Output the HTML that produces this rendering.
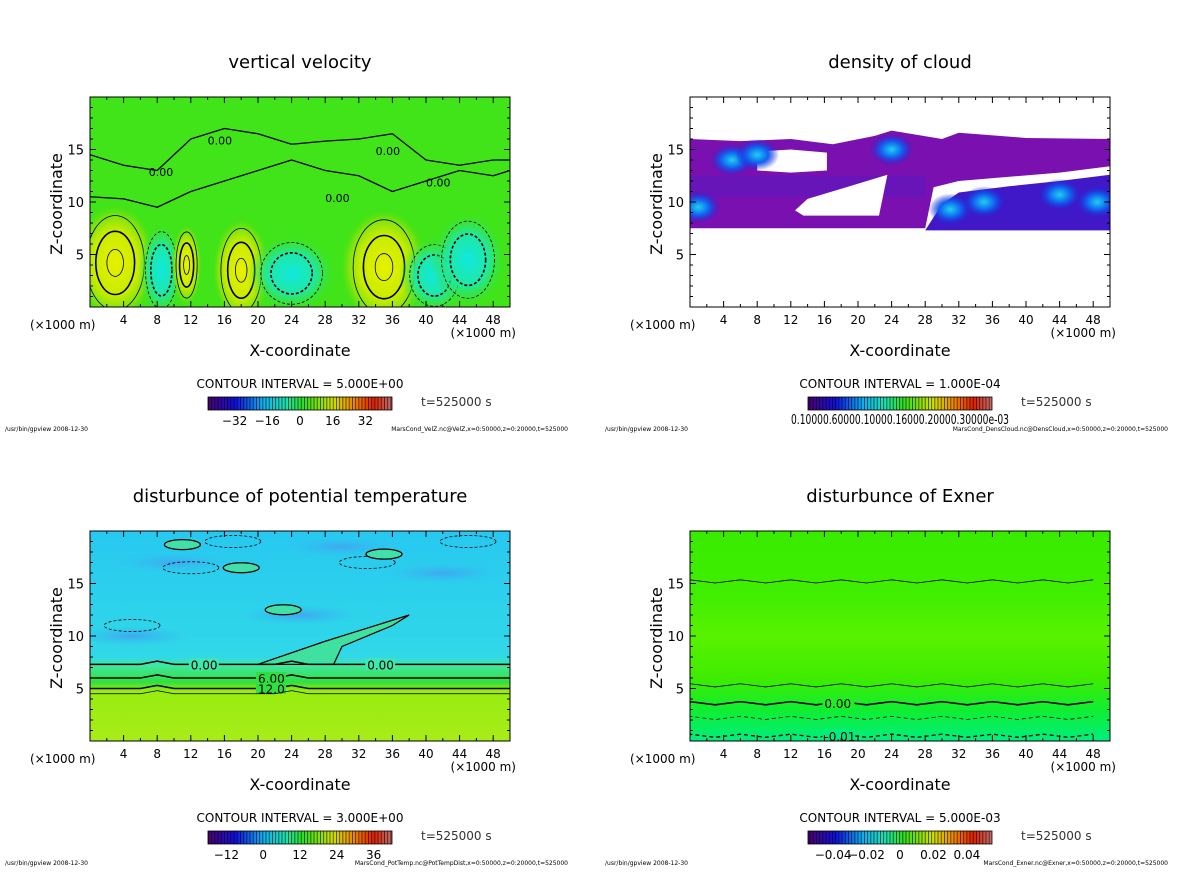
<!DOCTYPE html>
<html><head><meta charset="utf-8">
<style>
html,body{margin:0;padding:0;background:#fff;}
body{width:1200px;height:868px;overflow:hidden;font-family:"Liberation Sans","DejaVu Sans",sans-serif;}
svg text{font-family:"DejaVu Sans","Liberation Sans",sans-serif;}
</style></head>
<body>
<svg id="fig" width="1200" height="868" viewBox="0 0 1200 868" xmlns="http://www.w3.org/2000/svg">
<defs>
<linearGradient id="cbar" x1="0" x2="1" y1="0" y2="0">
<stop offset="0" stop-color="#4b0070"/><stop offset="0.15" stop-color="#1010e0"/>
<stop offset="0.3" stop-color="#10b0f0"/><stop offset="0.42" stop-color="#20e0b0"/>
<stop offset="0.52" stop-color="#30e020"/><stop offset="0.68" stop-color="#d0e000"/>
<stop offset="0.8" stop-color="#f08000"/><stop offset="0.9" stop-color="#e02000"/>
<stop offset="1" stop-color="#c07070"/></linearGradient>
<pattern id="cbarlines" width="3.2" height="14" patternUnits="userSpaceOnUse"><rect x="0" y="0" width="0.8" height="14" fill="#000" opacity="0.7"/></pattern>
<linearGradient id="ptgrad" x1="0" x2="0" y1="0" y2="1">
<stop offset="0" stop-color="#28c8f0"/><stop offset="0.6" stop-color="#30d8e8"/>
<stop offset="0.64" stop-color="#40e8a0"/><stop offset="0.72" stop-color="#30e040"/>
<stop offset="0.76" stop-color="#98ec10"/><stop offset="1" stop-color="#a8ec18"/></linearGradient>
<linearGradient id="exgrad" x1="0" x2="0" y1="0" y2="1">
<stop offset="0" stop-color="#38ec00"/><stop offset="0.3" stop-color="#40ee00"/>
<stop offset="0.5" stop-color="#58f200"/><stop offset="0.7" stop-color="#40ec00"/>
<stop offset="0.85" stop-color="#10ee30"/><stop offset="1" stop-color="#00ee80"/></linearGradient>
<radialGradient id="yel"><stop offset="0" stop-color="#e8f000"/><stop offset="0.55" stop-color="#c8ec00"/><stop offset="0.8" stop-color="#80e410"/><stop offset="1" stop-color="#50e010" stop-opacity="0"/></radialGradient>
<radialGradient id="cyn"><stop offset="0" stop-color="#10e8e0"/><stop offset="0.55" stop-color="#20e8a0"/><stop offset="1" stop-color="#40e020" stop-opacity="0"/></radialGradient>
<radialGradient id="blu"><stop offset="0" stop-color="#40a8f0"/><stop offset="1" stop-color="#30c0f0" stop-opacity="0"/></radialGradient>
<radialGradient id="cbl"><stop offset="0" stop-color="#20d0f0"/><stop offset="0.5" stop-color="#1060f0"/><stop offset="1" stop-color="#2020d0" stop-opacity="0"/></radialGradient>
</defs>
</svg>
<script>
// ---- data ----
const xTicks = [4,8,12,16,20,24,28,32,36,40,44,48];
const zTicks = [5,10,15];
const titles = ["vertical velocity","density of cloud","disturbunce of potential temperature","disturbunce of Exner"];
const intervals = ["CONTOUR INTERVAL = 5.000E+00","CONTOUR INTERVAL = 1.000E-04","CONTOUR INTERVAL = 3.000E+00","CONTOUR INTERVAL = 5.000E-03"];
const cbarLabels = [["-32","-16","0","16","32"],[],["-12","0","12","24","36"],["-0.04","-0.02","0","0.02","0.04"]];
const cbarValues = [[-32,-16,0,16,32],[],[-12,0,12,24,36],[-0.04,-0.02,0,0.02,0.04]];
const cbarRange = [[-45,45],[0,1],[-18,42],[-0.055,0.055]];
const files = ["MarsCond_VelZ.nc@VelZ,x=0:50000,z=0:20000,t=525000","MarsCond_DensCloud.nc@DensCloud,x=0:50000,z=0:20000,t=525000","MarsCond_PotTemp.nc@PotTempDist,x=0:50000,z=0:20000,t=525000","MarsCond_Exner.nc@Exner,x=0:50000,z=0:20000,t=525000"];
// vertical velocity cells
const wX = [3, 18, 35, 8.5, 11.5, 24, 41, 45];
const wZ = [4.2, 3.5, 3.8, 3.5, 4, 3.2, 3, 4.5];
const wRX = [3.3, 2.3, 3.5, 1.8, 1.2, 3.5, 2.8, 3];
const wRZ = [4.3, 3.8, 4.3, 3.5, 3, 2.8, 2.8, 3.5];
const wSign = [1, 1, 1, -1, 1, -1, -1, -1];
// zero contour heights across x (km) for w
const w0X = [0,4,8,12,16,20,24,28,32,36,40,44,48,50];
const w0Za = [10.5,10.3,9.5,11,12,13,14,13,12.5,11,12,13,12.5,13];
const w0Zb = [14.5,13.5,13,16,17,16.5,15.5,15.8,16,16.5,14,13.5,14,14];
// cloud polygons (km, z pairs flattened)
const cloudUpper = [0,16, 6,15.8, 12,16, 17,15.5, 22,16.3, 24,16.8, 30,16, 32,16.6, 40,16.1, 50,16, 50,13.4, 44,12.8, 38,12.4, 32,12, 29,11.4, 28,7.5, 0,7.5];
const cloudLower = [28,7.3, 50,7.3, 50,12.6, 44,12, 38,11.5, 32,10.9, 30,9.8];
const holeA = [8,14.8, 12,15, 16.3,14.7, 16.3,13, 12,12.8, 8,13];
const holeB = [13.5,8.7, 22.5,8.7, 23.5,12.6, 19,11.5, 14,10.3, 12.5,9.2];
// cloud bright spots
const sX = [5, 24, 31, 35, 44, 48.5, 1, 8];
const sZ = [14, 15, 9.3, 10, 10.7, 10, 9.5, 14.5];
// potential temp contour levels
const ptZ = [7.3, 6.0, 5.0, 4.5];
const ptLbl = ["0.00","6.00","12.0",""];
// exner contour levels
const exZ = [15.2, 5.3, 3.6, 2.2, 0.5];
const exDash = [false,false,false,true,true];
const exLbl = ["","","0.00","","-0.01"];

const NS="http://www.w3.org/2000/svg";
const svg=document.getElementById('fig');
function el(tag,attrs,parent){const e=document.createElementNS(NS,tag);for(const k in attrs)e.setAttribute(k,attrs[k]);(parent||svg).appendChild(e);return e;}
const panels=[{x:90,y:97},{x:690,y:97},{x:90,y:531},{x:690,y:531}];
const W=420,H=210;

panels.forEach((p,i)=>{
  const g=el('g',{});
  
  
  const sx=v=>p.x+v/50*W, sz=v=>p.y+H-v/20*H;
  const poly=a=>{let s='';for(let k=0;k<a.length;k+=2)s+=(k?' L':'M')+sx(a[k])+' '+sz(a[k+1]);return s+'Z';};
  const clip='clip'+i;
  const cp=el('clipPath',{id:clip},g);el('rect',{x:p.x,y:p.y,width:W,height:H},cp);
  const plot=el('g',{'clip-path':'url(#'+clip+')'},g);
  
  
  if(i===0){
    el('rect',{x:p.x,y:p.y,width:W,height:H,fill:'#40e418'},plot);
    wX.forEach((c,k)=>{
      const cell=el('ellipse',{cx:sx(c),cy:sz(wZ[k]),rx:wRX[k]/50*W*1.5,ry:wRZ[k]/20*H*1.3,fill:wSign[k]>0?'url(#yel)':'url(#cyn)'},plot);
      
      
      [1.05,0.7,0.3].forEach((f,j)=>{
        if(j===2&&wSign[k]<0)return;
        el('ellipse',{cx:sx(c),cy:sz(wZ[k]),rx:wRX[k]/50*W*f,ry:wRZ[k]/20*H*f,fill:'none',stroke:'#000','stroke-width':j===1?1.6:0.8,'stroke-dasharray':wSign[k]<0?'3,2':'none'},plot);
      });
    });
    [w0Za,w0Zb].forEach(arr=>{
      let d='';
      w0X.forEach((x,k)=>{d+=(k?' L':'M')+sx(x)+' '+sz(arr[k]);});
      const ln=el('path',{d:d,fill:'none',stroke:'#000','stroke-width':1.3,'stroke-linejoin':'round'},plot);
      
      
    });
    [[7,12.5],[14,15.5],[34,14.5],[40,11.5],[28,10]].forEach(q=>{const t=el('text',{x:sx(q[0]),y:sz(q[1]),'font-size':11,fill:'#000'},plot);t.textContent='0.00';});
  } else if(i===1){
    el('rect',{x:p.x,y:p.y,width:W,height:H,fill:'#fff'},plot);
    let u=el('path',{d:poly(cloudUpper),fill:'#7a10b0'},plot);
    
    el('rect',{x:sx(0),y:sz(12.5),width:sx(28)-sx(0),height:sz(10.5)-sz(12.5),fill:'#5a18c0',opacity:0.6},plot);
    el('path',{d:poly(holeA),fill:'#fff'},plot);
    el('path',{d:poly(holeB),fill:'#fff'},plot);
    let l=el('path',{d:poly(cloudLower),fill:'#4018c8'},plot);
    
    sX.forEach((x,k)=>{const s=el('ellipse',{cx:sx(x),cy:sz(sZ[k]),rx:22,ry:16,fill:'url(#cbl)'},plot);
      
      });
  } else if(i===2){
    el('rect',{x:p.x,y:p.y,width:W,height:H,fill:'url(#ptgrad)'},plot);
    [[10,17],[25,12],[42,16],[30,18.5],[5,10]].forEach(q=>el('ellipse',{cx:sx(q[0]),cy:sz(q[1]),rx:60,ry:10,fill:'url(#blu)'},plot));
    el('path',{d:`M${sx(20)} ${sz(7.3)} L${sx(28)} ${sz(9.5)} L${sx(38)} ${sz(12)} L${sx(36)} ${sz(11)} L${sx(30)} ${sz(9)} L${sx(29)} ${sz(7.3)}Z`,fill:'#40e0a0',stroke:'#000','stroke-width':1.2},plot);
    ptZ.forEach((z,k)=>{
      let d='M'+p.x+' '+sz(z);
      for(let xx=0;xx<=50;xx+=2){d+=' L'+sx(xx)+' '+sz(z+((xx===8||xx===24)?0.3:0))}
      const ln=el('path',{d:d,fill:'none',stroke:'#000','stroke-width':k<3?1.5:0.8},plot);
      
      
      if(ptLbl[k]){const xs=k===0?[12,33]:[20];xs.forEach(xl=>{el('rect',{x:sx(xl)-2,y:sz(z)-6,width:30,height:11,fill:k===0?'#40e8b0':'#30e040'},plot);const t=el('text',{x:sx(xl),y:sz(z)+5,'font-size':12,fill:'#000'},plot);t.textContent=ptLbl[k];});}
    });
    [[12,16.5],[33,17],[45,19],[17,19],[5,11]].forEach(q=>el('ellipse',{cx:sx(q[0]),cy:sz(q[1]),rx:28,ry:6,fill:'none',stroke:'#000','stroke-dasharray':'3,2','stroke-width':0.8},plot));
    [[18,16.5],[35,17.8],[23,12.5],[11,18.7]].forEach(q=>el('ellipse',{cx:sx(q[0]),cy:sz(q[1]),rx:18,ry:5,fill:'#40e0a8',stroke:'#000','stroke-width':1.3},plot));
  } else {
    el('rect',{x:p.x,y:p.y,width:W,height:H,fill:'url(#exgrad)'},plot);
    exZ.forEach((z,k)=>{
      let d='M'+p.x+' '+sz(z);
      for(let xx=0;xx<=50;xx+=3){d+=' L'+sx(xx)+' '+sz(z+(xx%6===0?0.15:-0.15))}
      const ln=el('path',{d:d,fill:'none',stroke:'#000','stroke-width':k===2?1.6:(k===4?1.3:0.8),'stroke-dasharray':exDash[k]?'4,3':'none'},plot);
      
      
      if(exLbl[k]){el('rect',{x:sx(16)-2,y:sz(z)-6,width:32,height:11,fill:k===2?'#20ee20':'#00ee80'},plot);const t=el('text',{x:sx(16),y:sz(z)+5,'font-size':12,fill:'#000'},plot);t.textContent=exLbl[k];}
    });
  }
  const fr=el('rect',{x:p.x,y:p.y,width:W,height:H,fill:'none',stroke:'#000','stroke-width':1},g);
  
  
  for(let xx=2;xx<50;xx+=2){const L=xx%4===0?6:3;el('line',{x1:sx(xx),x2:sx(xx),y1:p.y+H,y2:p.y+H-L,stroke:'#000'},g);el('line',{x1:sx(xx),x2:sx(xx),y1:p.y,y2:p.y+L,stroke:'#000'},g);}
  for(let zz=1;zz<20;zz++){const L=zz%5===0?6:3;el('line',{x1:p.x,x2:p.x+L,y1:sz(zz),y2:sz(zz),stroke:'#000'},g);el('line',{x1:p.x+W,x2:p.x+W-L,y1:sz(zz),y2:sz(zz),stroke:'#000'},g);}
  xTicks.forEach(v=>{const t=el('text',{x:sx(v),y:p.y+H+17,'font-size':12,'text-anchor':'middle'},g);
    t.textContent=v;});
  zTicks.forEach(v=>{const t=el('text',{x:p.x-6,y:sz(v)+5,'font-size':13,'text-anchor':'end'},g);
    t.textContent=v;});
  let t=el('text',{x:p.x-60,y:p.y+H+22,'font-size':12},g);t.textContent='(×1000 m)';
  
  t=el('text',{x:p.x+W+6,y:p.y+H+30,'font-size':12,'text-anchor':'end'},g);t.textContent='(×1000 m)';
  
  t=el('text',{x:p.x+210,y:p.y+H+49,'font-size':16,'text-anchor':'middle'},g);t.textContent='X-coordinate';
  
  t=el('text',{x:0,y:0,'font-size':16,'text-anchor':'middle',transform:`translate(${p.x-28},${p.y+H/2+2}) rotate(-90)`},g);t.textContent='Z-coordinate';
  
  t=el('text',{x:p.x+210,y:p.y-29,'font-size':18,'text-anchor':'middle'},g);t.textContent=titles[i];
  
  t=el('text',{x:p.x+210,y:p.y+H+81,'font-size':12,'text-anchor':'middle'},g);t.textContent=intervals[i];
  
  const cb=el('g',{},g);
  const cx0=p.x+118,cw=184,cy=p.y+H+90;
  el('rect',{x:cx0,y:cy,width:cw,height:13,fill:'url(#cbar)',stroke:'#000','stroke-width':0.8},cb);
  el('rect',{x:cx0,y:cy,width:cw,height:13,fill:'url(#cbarlines)'},cb);
  const rg=cbarRange[i];
  cbarValues[i].forEach((v,k)=>{const tt=el('text',{x:cx0+(v-rg[0])/(rg[1]-rg[0])*cw,y:cy+28,'font-size':12,'text-anchor':'middle'},cb);tt.textContent=cbarLabels[i][k].replace('-','−');});
  if(i===1){const tt=el('text',{x:cx0+92,y:cy+27,'font-size':13,'text-anchor':'middle',textLength:218,lengthAdjust:'spacingAndGlyphs'},cb);tt.textContent='0.10000.60000.10000.16000.20000.30000e-03';}
  t=el('text',{x:p.x+331,y:cy+9,'font-size':12,fill:'#333'},g);t.textContent='t=525000  s';
  
  t=el('text',{x:p.x-85,y:cy+34,'font-size':6},g);t.textContent='/usr/bin/gpview   2008-12-30';
  
  t=el('text',{x:p.x+478,y:cy+34,'font-size':6,'text-anchor':'end'},g);t.textContent=files[i];
  
});
</script>
</body></html>
